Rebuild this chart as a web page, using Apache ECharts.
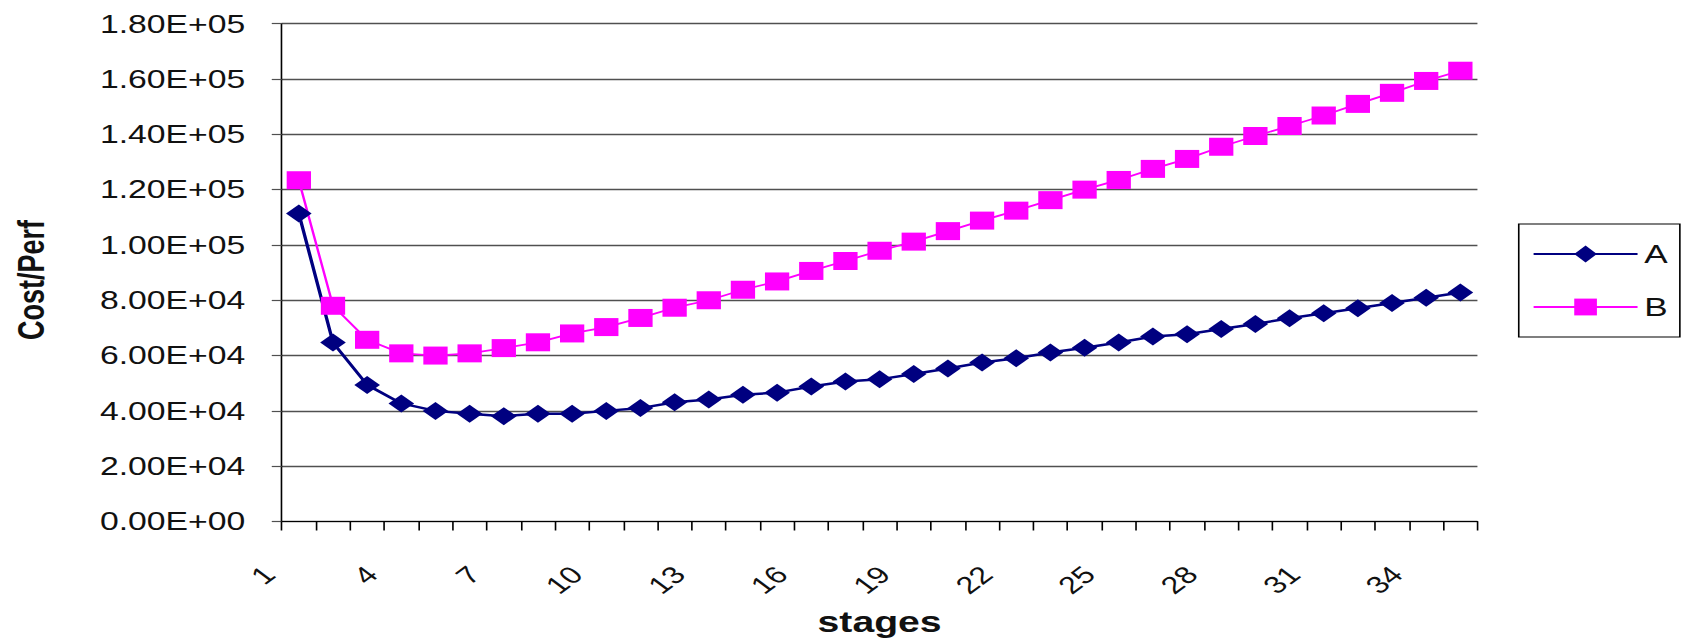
<!DOCTYPE html>
<html>
<head>
<meta charset="utf-8">
<script src="https://cdn.jsdelivr.net/npm/echarts@6/dist/echarts.min.js"></script>
<style>
  html, body { margin: 0; padding: 0; background: #fff; overflow: hidden; }
  #wrap { width: 1686px; height: 642px; overflow: hidden; }
  #chart { width: 1249px; height: 642px; transform: scaleX(1.35); transform-origin: 0 0; }
</style>
</head>
<body>
<div id="wrap"><div id="chart"></div></div>
<script>
const stages = ['1','2','3','4','5','6','7','8','9','10','11','12','13','14','15','16','17','18',
  '19','20','21','22','23','24','25','26','27','28','29','30','31','32','33','34','35'];

const seriesA = [111400, 64700, 49400, 42700, 40000, 39000, 38100, 39000, 39000, 40000,
  41000, 43100, 44100, 45800, 46600, 48800, 50600, 51400, 53300, 55300,
  57500, 59000, 61100, 62800, 64700, 66900, 67700, 69600, 71400, 73500,
  75300, 77100, 79000, 80900, 82800];

const seriesB = [123400, 78000, 65700, 60800, 60000, 60800, 62700, 64800, 68000, 70300,
  73600, 77300, 80000, 83800, 86800, 90600, 94200, 97900, 101200, 105000,
  108800, 112400, 116200, 120000, 123500, 127500, 131100, 135500, 139400, 143000,
  146800, 151000, 155000, 159300, 163000];

const yMin = 0, yMax = 180000, yStep = 20000;

function sci(v) {
  if (v === 0) return '0.00E+00';
  const e = Math.floor(Math.log10(Math.abs(v)) + 1e-9);
  const m = v / Math.pow(10, e);
  const es = (e < 0 ? '-' : '+') + String(Math.abs(e)).padStart(2, '0');
  return m.toFixed(2) + 'E' + es;
}

const FONT = "'Liberation Sans', Arial, Helvetica, sans-serif";
const chart = echarts.init(document.getElementById('chart'), null, { renderer: 'svg' });

chart.setOption({
  animation: false,
  backgroundColor: '#ffffff',
  textStyle: { fontFamily: FONT },
  grid: { left: 208.7, right: 154.6, top: 23.7, bottom: 120.5, containLabel: false, outerBoundsMode: 'none' },
  legend: {
    orient: 'vertical',
    left: 1125,
    top: 224,
    padding: [17, 9, 17, 10],
    itemWidth: 77,
    itemHeight: 21,
    itemGap: 27,
    borderColor: '#000',
    borderWidth: 1.2,
    textStyle: { fontSize: 26, color: '#111', fontFamily: FONT },
    data: ['A', 'B']
  },
  xAxis: {
    type: 'category',
    data: stages,
    boundaryGap: true,
    name: 'stages',
    nameLocation: 'middle',
    nameGap: 86,
    nameTextStyle: { fontSize: 29, fontWeight: 'bold', color: '#111', fontFamily: FONT },
    axisLine: { lineStyle: { color: '#000', width: 1.2 } },
    axisTick: { show: true, interval: 0, length: 9, lineStyle: { color: '#000', width: 1.2 } },
    axisLabel: {
      interval: 2, rotate: 45, fontSize: 24, color: '#111', margin: 27,
      padding: [0, 31, 0, 0], fontFamily: FONT
    },
    splitLine: { show: false }
  },
  yAxis: {
    type: 'value',
    min: yMin,
    max: yMax,
    interval: yStep,
    name: 'Cost/Perf',
    nameLocation: 'middle',
    nameRotate: 90,
    nameGap: 172,
    nameTextStyle: { fontSize: 27, fontWeight: 'bold', color: '#111', fontFamily: FONT, padding: [0, 15, 0, 0] },
    axisLine: { show: true, lineStyle: { color: '#000', width: 1.2 } },
    axisTick: { show: true, length: 7.4, lineStyle: { color: '#505050', width: 1.2 } },
    axisLabel: { formatter: sci, fontSize: 25, color: '#111', margin: 27, fontFamily: FONT },
    splitLine: { show: true, lineStyle: { color: '#505050', width: 1.3 } }
  },
  series: [
    {
      name: 'A',
      type: 'line',
      data: seriesA,
      symbol: 'diamond',
      symbolSize: [19, 18],
      showAllSymbol: true,
      color: '#000080',
      itemStyle: { color: '#000080' },
      lineStyle: { color: '#000080', width: 2.5 }
    },
    {
      name: 'B',
      type: 'line',
      data: seriesB,
      symbol: 'rect',
      symbolSize: [18, 18],
      showAllSymbol: true,
      color: '#ff00ff',
      itemStyle: { color: '#ff00ff' },
      lineStyle: { color: '#ff00ff', width: 1.8 }
    }
  ]
});
</script>
</body>
</html>
